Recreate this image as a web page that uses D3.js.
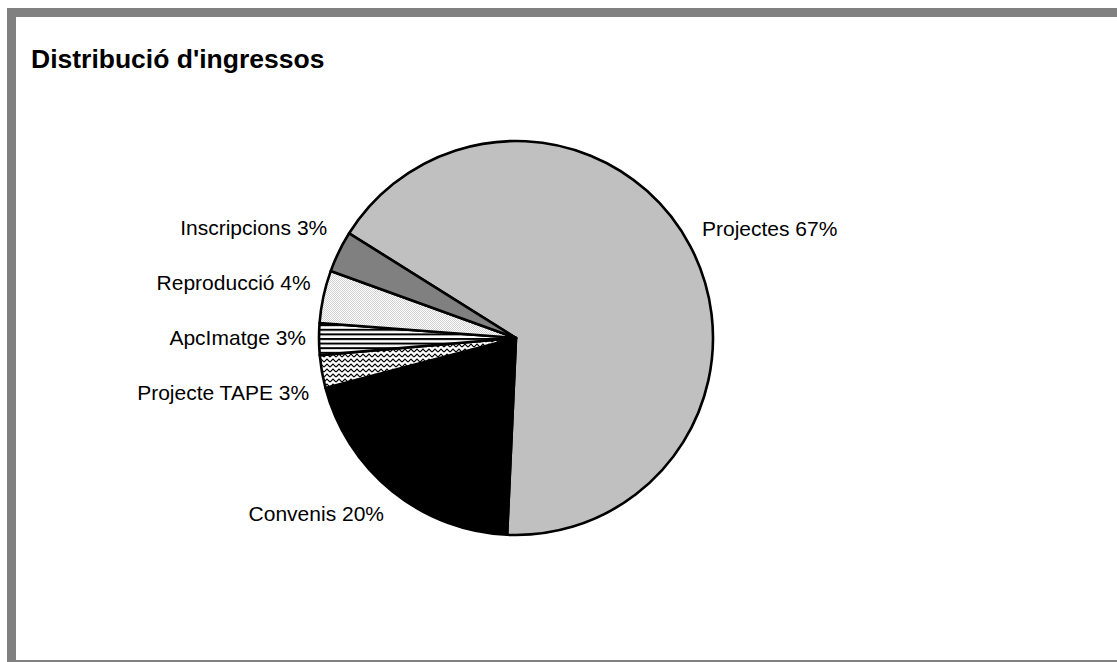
<!DOCTYPE html>
<html>
<head>
<meta charset="utf-8">
<script src="https://cdn.jsdelivr.net/npm/d3@7"></script>
<style>
  body { margin: 0; background: #fff; }
  svg { display: block; }
  text { font-family: "Liberation Sans", Arial, sans-serif; }
</style>
</head>
<body>
<div id="chart"></div>
<script>
// slices, clockwise from the first one
const categories = ["Projectes", "Convenis", "Projecte TAPE", "ApcImatge", "Reproducció", "Inscripcions"];
const values = [66.8, 20.2, 2.7, 2.6, 4.3, 3.4];
const fills = ["#c0c0c0", "#000000", "url(#zigzag)", "url(#hlines)", "url(#dots)", "#808080"];
const title = "Distribució d'ingressos";

const width = 1117, height = 662;
const cx = 516, cy = 338, radius = 197;
const labelRadius = 210;
const labelBoxH = 24;
const minLabelGap = 55;
const startAngle = -57.9 * Math.PI / 180;

const svg = d3.select("#chart").append("svg")
  .attr("width", width)
  .attr("height", height);

// chart area frame (cut off on the right and bottom)
svg.append("rect")
  .attr("x", 7).attr("y", 8)
  .attr("width", 1300).attr("height", 700)
  .attr("fill", "#808080");
svg.append("rect")
  .attr("x", 16).attr("y", 17)
  .attr("width", 1300).attr("height", 643)
  .attr("fill", "#ffffff");

// fill patterns
const defs = svg.append("defs");

const zig = defs.append("pattern")
  .attr("id", "zigzag")
  .attr("patternUnits", "userSpaceOnUse")
  .attr("width", 6).attr("height", 5);
zig.append("rect").attr("width", 6).attr("height", 5).attr("fill", "#fff");
zig.append("path")
  .attr("d", "M0,4 L3,1 L6,4")
  .attr("fill", "none")
  .attr("stroke", "#000")
  .attr("stroke-width", 1.2);

const hl = defs.append("pattern")
  .attr("id", "hlines")
  .attr("patternUnits", "userSpaceOnUse")
  .attr("width", 8).attr("height", 4.6);
hl.append("rect").attr("width", 8).attr("height", 4.6).attr("fill", "#fff");
hl.append("rect").attr("y", 0).attr("width", 8).attr("height", 2).attr("fill", "#000");

const dots = defs.append("pattern")
  .attr("id", "dots")
  .attr("patternUnits", "userSpaceOnUse")
  .attr("width", 2).attr("height", 2);
dots.append("rect").attr("width", 2).attr("height", 2).attr("fill", "#fff");
dots.append("rect").attr("width", 1).attr("height", 1).attr("fill", "#d0d0d0");
dots.append("rect").attr("x", 1).attr("y", 1).attr("width", 1).attr("height", 1).attr("fill", "#d0d0d0");

// title
svg.append("text")
  .attr("x", 31)
  .attr("y", 68)
  .style("font-size", "26.5px")
  .style("font-weight", "bold")
  .style("fill", "#000")
  .text(title);

// pie
const total = d3.sum(values);
const pie = d3.pie()
  .sort(null)
  .value(d => d.value)
  .startAngle(startAngle)
  .endAngle(startAngle + 2 * Math.PI);

const data = categories.map((c, i) => ({name: c, value: values[i], fill: fills[i]}));
const arcs = pie(data);

const arc = d3.arc().innerRadius(0).outerRadius(radius);

const pieG = svg.append("g")
  .attr("transform", "translate(" + cx + "," + cy + ")");

pieG.selectAll(".slice")
  .data(arcs)
  .join("path")
  .attr("class", "slice")
  .attr("d", arc)
  .attr("fill", d => d.data.fill)
  .attr("stroke", "#000")
  .attr("stroke-width", 2.6)
  .attr("stroke-linejoin", "round");

// labels: corner of the label box sits on a circle just outside the pie
arcs.forEach(d => {
  const a = (d.startAngle + d.endAngle) / 2;
  const px = labelRadius * Math.sin(a);
  const py = -labelRadius * Math.cos(a);
  const k = Math.max(-1, Math.min(1, Math.cos(a) * 4));
  d.lx = px;
  d.ly = py - k * labelBoxH / 2;
  d.side = Math.sin(a) < 0 ? "left" : "right";
});

// push overlapping labels apart on each side
["left", "right"].forEach(side => {
  const group = arcs.filter(d => d.side === side).sort((a, b) => a.ly - b.ly);
  for (let iter = 0; iter < 200; iter++) {
    let moved = false;
    for (let i = 1; i < group.length; i++) {
      const gap = group[i].ly - group[i - 1].ly;
      if (gap < minLabelGap - 0.01) {
        const shift = (minLabelGap - gap) / 2;
        group[i - 1].ly -= shift;
        group[i].ly += shift;
        moved = true;
      }
    }
    if (!moved) break;
  }
});

pieG.selectAll(".sliceLabel")
  .data(arcs)
  .join("text")
  .attr("class", "sliceLabel")
  .attr("x", d => d.lx)
  .attr("y", d => d.ly)
  .attr("dy", "0.35em")
  .attr("text-anchor", d => d.side === "left" ? "end" : "start")
  .style("font-size", "21px")
  .style("fill", "#000")
  .text(d => d.data.name + " " + Math.round(d.data.value / total * 100) + "%");
</script>
</body>
</html>
